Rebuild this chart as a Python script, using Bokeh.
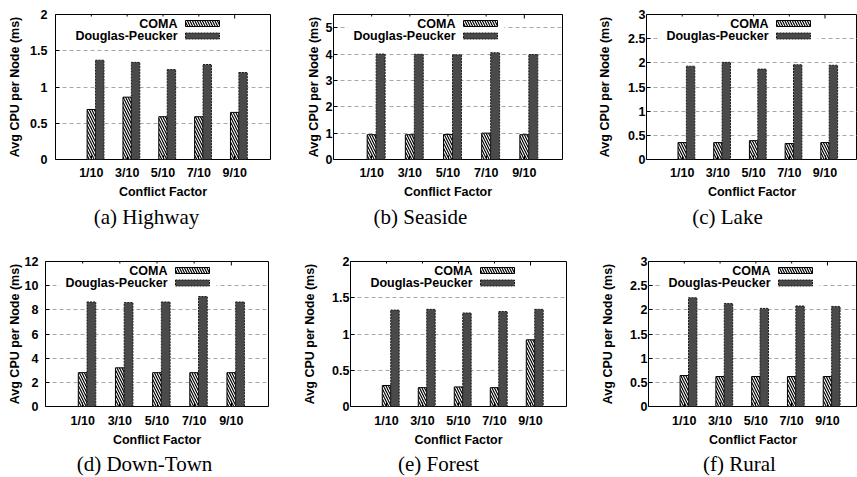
from bokeh.plotting import figure
from bokeh.models import FixedTicker, Range1d, BoxAnnotation, Label
from bokeh.core.properties import value
from bokeh.layouts import column, row
from bokeh.embed import file_html
from bokeh.resources import INLINE

# ---------------- data ----------------
categories = ["1/10", "3/10", "5/10", "7/10", "9/10"]
series_names = ["COMA", "Douglas-Peucker"]

highway_coma = [0.69, 0.86, 0.59, 0.59, 0.65]
highway_dp = [1.37, 1.34, 1.24, 1.31, 1.20]
seaside_coma = [0.94, 0.94, 0.95, 1.00, 0.94]
seaside_dp = [4.00, 3.99, 3.97, 4.05, 3.98]
lake_coma = [0.35, 0.35, 0.39, 0.33, 0.35]
lake_dp = [1.93, 2.01, 1.87, 1.96, 1.95]
downtown_coma = [2.8, 3.2, 2.8, 2.8, 2.8]
downtown_dp = [8.65, 8.6, 8.65, 9.1, 8.65]
forest_coma = [0.29, 0.26, 0.27, 0.26, 0.92]
forest_dp = [1.33, 1.34, 1.29, 1.31, 1.34]
rural_coma = [0.64, 0.62, 0.62, 0.62, 0.62]
rural_dp = [2.25, 2.13, 2.03, 2.08, 2.07]

captions = ["(a) Highway", "(b) Seaside", "(c) Lake",
            "(d) Down-Town", "(e) Forest", "(f) Rural"]
y_max = [2, 5.5, 3, 12, 2, 3]
y_ticks = [
    [0, 0.5, 1, 1.5, 2],
    [0, 1, 2, 3, 4, 5],
    [0, 0.5, 1, 1.5, 2, 2.5, 3],
    [0, 2, 4, 6, 8, 10, 12],
    [0, 0.5, 1, 1.5, 2],
    [0, 0.5, 1, 1.5, 2, 2.5, 3],
]
coma_values = [highway_coma, seaside_coma, lake_coma, downtown_coma, forest_coma, rural_coma]
dp_values = [highway_dp, seaside_dp, lake_dp, downtown_dp, forest_dp, rural_dp]

# ---------------- layout / style ----------------
TOTAL_W = 857
ROW1 = dict(h=205, bt=14, bb=46, xs_tick=6, xs_lab=2)
ROW2 = dict(h=211, bt=23, bb=43, xs_tick=7, xs_lab=2)
CAP_H = [33, 28]            # caption strip heights
CAP_Y = [21.6, 13.8]        # caption middle, px above strip bottom
CAP_X = [[146, 420, 727], [144, 438, 739]]   # caption centres, px
layouts = [
    dict(ROW1, w=285, bl=55, br=15, x_end=5.0, tg=8, ls=5),
    dict(ROW1, w=285, bl=48, br=8, x_end=5.0, tg=1, ls=2),
    dict(ROW1, w=287, bl=76, br=0, x_end=4.91, tg=1, ls=13),
    dict(ROW2, w=285, bl=45, br=17, x_end=5.0, tg=7, ls=0),
    dict(ROW2, w=285, bl=65, br=4, x_end=5.0, tg=1, ls=12),
    dict(ROW2, w=287, bl=78, br=0, x_end=4.84, tg=1, ls=12),
]

FONT = "Liberation Sans"
BAR_W = 0.235
DP_FILL = "#4a4a4a"
GRID_COLOR = "#a8a8a8"


def fmt(t):
    return f"{t:g}"


def make_panel(k):
    L = layouts[k]
    ymax = y_max[k]
    fw = L["w"] - L["bl"] - L["br"]
    fh = L["h"] - L["bt"] - L["bb"]
    x0, x1 = -1.0, L["x_end"]
    p = figure(width=L["w"], height=L["h"], output_backend="svg", toolbar_location=None,
               x_range=Range1d(x0, x1), y_range=Range1d(0, ymax),
               min_border_left=L["bl"], min_border_right=L["br"],
               min_border_top=L["bt"], min_border_bottom=L["bb"],
               background_fill_color="white", border_fill_color="white")
    p.outline_line_color = "black"
    p.outline_line_width = 1

    xs = list(range(len(categories)))
    n = len(xs)
    p.xgrid.visible = False
    p.ygrid.ticker = FixedTicker(ticks=y_ticks[k])
    p.ygrid.grid_line_color = GRID_COLOR
    p.ygrid.grid_line_dash = "4 3"
    p.ygrid.grid_line_width = 1

    # bars
    p.vbar(x=xs, top=coma_values[k], width=BAR_W, bottom=0,
           fill_color="white", line_color="black", line_width=1,
           hatch_pattern="\\", hatch_color="black", hatch_scale=5, hatch_weight=1.2)
    p.vbar(x=[x + BAR_W for x in xs], top=dp_values[k], width=BAR_W, bottom=0,
           fill_color=DP_FILL, line_color="#1a1a1a", line_width=1, line_dash="2 1")

    # mirrored category ticks on the top border
    p.segment(x0=xs, x1=xs, y0=[ymax] * n, y1=[ymax - 4 * ymax / fh] * n,
              line_color="black", line_width=1)

    # axes
    xa = p.xaxis[0]
    xa.ticker = FixedTicker(ticks=xs)
    xa.major_label_overrides = {x: c for x, c in zip(xs, categories)}
    xa.axis_label = "Conflict Factor"
    ya = p.yaxis[0]
    ya.ticker = FixedTicker(ticks=y_ticks[k])
    ya.major_label_overrides = {t: fmt(t) for t in y_ticks[k]}
    ya.axis_label = "Avg CPU per Node (ms)"
    for ax in (xa, ya):
        ax.axis_line_color = None
        ax.major_tick_in = 4
        ax.major_tick_out = 0
        ax.minor_tick_line_color = None
        ax.major_tick_line_color = "black"
        ax.major_label_text_font = FONT
        ax.major_label_text_font_style = "bold"
        ax.major_label_text_font_size = "12.5px"
        ax.major_label_text_color = "black"
        ax.axis_label_text_font = FONT
        ax.axis_label_text_font_style = "bold"
        ax.axis_label_text_font_size = "12.5px"
        ax.axis_label_text_color = "black"
    xa.major_label_standoff = L["xs_tick"]
    xa.axis_label_standoff = L["xs_lab"]
    ya.major_label_standoff = L["tg"]
    ya.axis_label_standoff = L["ls"]

    # legend (sample box to the right of the text, opaque background)
    def xd(px):
        return x0 + px * (x1 - x0) / fw

    def yd(px):
        return ymax - px * ymax / fh

    box_r, box_w, text_end = 164, 34, 122
    rows_c = [9, 21.5]
    p.add_layout(BoxAnnotation(left=xd(text_end - 108), right=xd(box_r + 7),
                               top=yd(2), bottom=yd(28),
                               fill_color="white", fill_alpha=1, line_color=None, level="annotation"))
    for j, name in enumerate(series_names):
        yc = rows_c[j]
        p.add_layout(Label(x=xd(text_end), y=yd(yc), text=name, text_align="right",
                           text_baseline="middle", text_font=FONT, text_font_style="bold",
                           text_font_size="12.5px", text_color="black"))
        if j == 0:
            box = BoxAnnotation(left=xd(box_r - box_w), right=xd(box_r), top=yd(yc - 3),
                                bottom=yd(yc + 3), fill_color="white", fill_alpha=1,
                                line_color="black", line_width=1, line_alpha=1,
                                hatch_pattern="\\", hatch_color="black", hatch_scale=5,
                                hatch_weight=1.2, level="annotation")
        else:
            box = BoxAnnotation(left=xd(box_r - box_w), right=xd(box_r), top=yd(yc - 3),
                                bottom=yd(yc + 3), fill_color=DP_FILL, fill_alpha=1,
                                line_color="#1a1a1a", line_width=1, line_alpha=1,
                                line_dash="2 1", level="annotation")
        p.add_layout(box)
    return p


def make_caption_strip(r):
    h = CAP_H[r]
    c = figure(width=TOTAL_W, height=h, output_backend="svg", toolbar_location=None,
               x_range=Range1d(0, TOTAL_W), y_range=Range1d(0, h),
               x_axis_type=None, y_axis_type=None,
               min_border_left=0, min_border_right=0, min_border_top=0, min_border_bottom=0,
               background_fill_color="white", border_fill_color="white")
    c.outline_line_color = None
    c.xgrid.visible = False
    c.ygrid.visible = False
    c.text(x=CAP_X[r], y=[CAP_Y[r]] * 3, text=captions[3 * r:3 * r + 3],
           text_align="center", text_baseline="middle",
           text_font=value("Liberation Serif"), text_font_size="21px", text_color="black")
    return c


panels = [make_panel(k) for k in range(6)]
layout = column(
    row(*panels[:3], spacing=0), make_caption_strip(0),
    row(*panels[3:], spacing=0), make_caption_strip(1),
    spacing=0)

with open("out.html", "w") as f:
    f.write(file_html(layout, INLINE))
